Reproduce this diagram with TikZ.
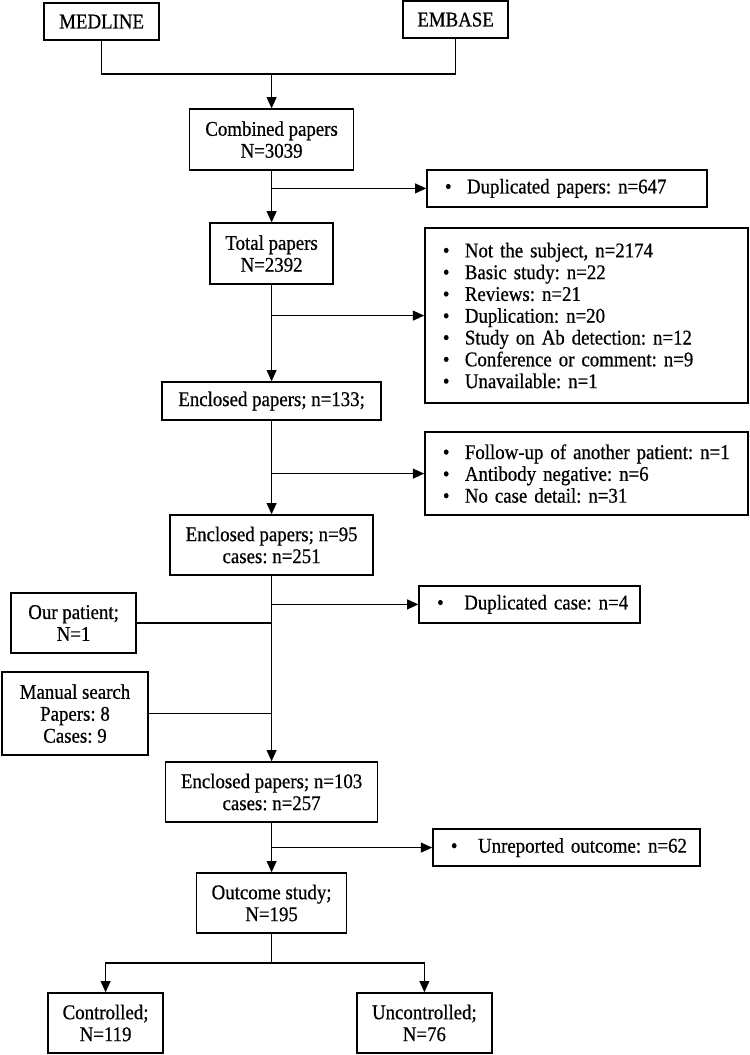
\documentclass[tikz,border=0pt]{standalone}
\usepackage{fontspec}
\setmainfont{Liberation Serif}[FakeStretch=0.9,FakeBold=0.6]
\usetikzlibrary{arrows.meta}

\newcommand{\itm}[1][0.55cm]{\makebox[#1][l]{\textbullet}}

\tikzset{
  box/.style={draw, line width=1pt, align=center, inner sep=0pt,
    font=\fontsize{14.9}{15.6}\selectfont\frenchspacing},
  listbox/.style={draw, line width=1pt, align=left, inner xsep=0.45cm, inner ysep=0pt,
    font=\fontsize{14.9}{15.5}\selectfont\frenchspacing},
  arr/.style={-{Triangle[length=8pt,width=7pt]}},
}

\begin{document}
\begin{tikzpicture}[line width=1pt]
\useasboundingbox (0,0) rectangle (18.725,-26.375);

% sources
\node[box, minimum width=2.875cm, minimum height=0.925cm] (medline) at (2.54,-0.54) {MEDLINE};
\node[box, minimum width=2.625cm, minimum height=0.925cm] (embase) at (11.39,-0.49) {EMBASE};
\coordinate (join) at (6.79,-1.85);

% main column
\node[box, minimum width=4.1cm, minimum height=1.525cm] (comb) at (6.79,-3.49) {Combined papers\\N=3039};
\node[box, minimum width=3.075cm, minimum height=1.525cm] (total) at (6.79,-6.34) {Total papers\\N=2392};
\node[box, minimum width=5.475cm, minimum height=0.95cm] (enc133) at (6.79,-10.025) {Enclosed papers; n=133;};
\node[box, minimum width=5.075cm, minimum height=1.5cm] (enc95) at (6.79,-13.625) {Enclosed papers; n=95\\cases: n=251};
\node[box, minimum width=5.3cm, minimum height=1.5cm] (enc103) at (6.79,-19.8) {Enclosed papers; n=103\\cases: n=257};
\node[box, minimum width=3.75cm, minimum height=1.5cm] (outcome) at (6.79,-22.575) {Outcome study;\\N=195};
\coordinate (split) at (6.79,-24.075);
\node[box, minimum width=2.875cm, minimum height=1.5cm] (ctrl) at (2.64,-25.575) {Controlled;\\N=119};
\node[box, minimum width=3.375cm, minimum height=1.5cm] (unctrl) at (10.61,-25.575) {Uncontrolled;\\N=76};

% added cases
\node[box, minimum width=3.125cm, minimum height=1.5cm] (ourpat) at (1.84,-15.575) {Our patient;\\N=1};
\node[box, minimum width=3.65cm, minimum height=2.075cm] (manual) at (1.875,-17.84) {Manual search\\Papers: 8\\Cases: 9};

% excluded
\node[listbox, text width=6.1cm, minimum height=0.925cm] (dup) at (14.175,-4.71)
  {\mbox{\itm Duplicated papers: n=647}};
\node[listbox, text width=7.175cm, minimum height=4.375cm] (excl) at (14.66,-7.89)
  {\itm Not the subject, n=2174\\
   \itm Basic study: n=22\\
   \itm Reviews: n=21\\
   \itm Duplication: n=20\\
   \itm Study on Ab detection: n=12\\
   \itm Conference or comment: n=9\\
   \itm Unavailable: n=1};
\node[listbox, text width=7.175cm, minimum height=2.075cm] (excl2) at (14.66,-11.84)
  {\itm Follow-up of another patient: n=1\\
   \itm Antibody negative: n=6\\
   \itm No case detail: n=31};
\node[listbox, text width=4.625cm, minimum height=0.925cm] (dupcase) at (13.24,-15.11)
  {\mbox{\itm[0.68cm]Duplicated case: n=4}};
\node[listbox, text width=5.775cm, minimum height=0.925cm] (unrep) at (14.16,-21.19)
  {\mbox{\itm[0.68cm]Unreported outcome: n=62}};

% connectors
\draw (medline.south) |- (join) -| (embase.south);
\draw[arr] (join) -- (comb.north);
\draw[arr] (comb.south) -- (total.north);
\draw[arr] (dup.west -| comb.south) -- (dup.west);
\draw[arr] (total.south) -- (enc133.north);
\draw[arr] (excl.west -| total.south) -- (excl.west);
\draw[arr] (enc133.south) -- (enc95.north);
\draw[arr] (excl2.west -| enc133.south) -- (excl2.west);
\draw[arr] (enc95.south) -- (enc103.north);
\draw[arr] (dupcase.west -| enc95.south) -- (dupcase.west);
\draw (ourpat.east) -- (ourpat.east -| enc95.south);
\draw (manual.east) -- (manual.east -| enc95.south);
\draw[arr] (enc103.south) -- (outcome.north);
\draw[arr] (unrep.west -| enc103.south) -- (unrep.west);
\draw (outcome.south) -- (split);
\draw[arr] (split) -| (ctrl.north);
\draw[arr] (split) -| (unctrl.north);
\end{tikzpicture}
\end{document}
